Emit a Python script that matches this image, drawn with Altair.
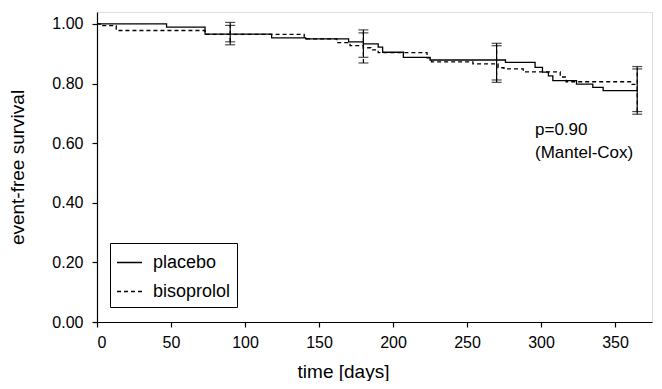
import altair as alt
import pandas as pd

# Kaplan-Meier step data (day where the step starts, survival from then on)
placebo_days = [0, 47, 73, 118, 141, 170, 180, 190, 193, 207, 225, 276, 296, 301, 305, 308, 324, 335, 342, 365]
placebo_surv = [1.000, 0.989, 0.966, 0.953, 0.950, 0.940, 0.933, 0.922, 0.905, 0.888, 0.879, 0.871, 0.854, 0.838, 0.826, 0.810, 0.798, 0.787, 0.776, 0.776]

biso_days = [0, 2, 13, 73, 140, 162, 171, 180, 185, 190, 223, 226, 254, 271, 275, 288, 313, 317, 361, 365]
biso_surv = [1.000, 0.994, 0.978, 0.965, 0.950, 0.937, 0.927, 0.920, 0.913, 0.904, 0.886, 0.873, 0.866, 0.853, 0.849, 0.839, 0.822, 0.806, 0.797, 0.797]

# confidence intervals at the marked time points
ci_days = [90, 180, 270, 365]
placebo_lo = [0.930, 0.888, 0.812, 0.697]
placebo_hi = [1.005, 0.980, 0.935, 0.849]
biso_lo = [0.940, 0.869, 0.804, 0.706]
biso_hi = [0.995, 0.970, 0.927, 0.857]

groups = ["placebo", "bisoprolol"]
x_ticks = list(range(0, 376, 25))
y_ticks = [0, 0.2, 0.4, 0.6, 0.8, 1.0]

curves = pd.concat([
    pd.DataFrame({"day": placebo_days, "surv": placebo_surv, "group": "placebo"}),
    pd.DataFrame({"day": biso_days, "surv": biso_surv, "group": "bisoprolol"}),
])
ci = pd.concat([
    pd.DataFrame({"day": ci_days, "lo": placebo_lo, "hi": placebo_hi, "group": "placebo"}),
    pd.DataFrame({"day": ci_days, "lo": biso_lo, "hi": biso_hi, "group": "bisoprolol"}),
])

FONT = "Liberation Sans"

x_scale = alt.Scale(domain=[0, 375], nice=False, zero=False)
y_scale = alt.Scale(domain=[0, 1.04], nice=False)
dash_scale = alt.Scale(domain=groups, range=[[1, 0], [4, 3]])

common_axis = dict(
    grid=False,
    tickSize=5,
    domainColor="black",
    tickColor="black",
    labelColor="black",
    titleColor="black",
    labelFont=FONT,
    titleFont=FONT,
    labelFontSize=16,
    titleFontSize=19,
    titleFontWeight="normal",
    domainWidth=1.2,
    tickWidth=1.2,
)

x_axis = alt.Axis(
    values=x_ticks,
    labelExpr="(datum.value % 50 == 0 && datum.value <= 350) ? datum.label : ''",
    title="time [days]",
    labelPadding=7,
    titlePadding=12,
    titleX=246,
    **common_axis,
)
y_axis = alt.Axis(
    values=y_ticks,
    format=".2f",
    title="event-free survival",
    labelPadding=9,
    titlePadding=24,
    **common_axis,
)

lines = alt.Chart(curves).mark_line(
    interpolate="step-after", color="black", strokeWidth=1.3
).encode(
    x=alt.X("day:Q", scale=x_scale, axis=x_axis),
    y=alt.Y("surv:Q", scale=y_scale, axis=y_axis),
    strokeDash=alt.StrokeDash(
        "group:N",
        scale=dash_scale,
        legend=alt.Legend(
            title=None,
            orient="none",
            legendX=13,
            legendY=231,
            strokeColor="black",
            padding=6,
            symbolType="stroke",
            symbolSize=625,
            symbolStrokeColor="black",
            symbolStrokeWidth=1.5,
            labelFontSize=18,
            labelFont=FONT,
            labelColor="black",
            rowPadding=6,
            labelOffset=10,
            cornerRadius=0,
        ),
    ),
    detail="group:N",
)

bars = alt.Chart(ci).mark_rule(color="black", strokeWidth=1.2).encode(
    x="day:Q",
    y="lo:Q",
    y2="hi:Q",
    strokeDash=alt.StrokeDash("group:N", scale=dash_scale, legend=None),
)

caps_lo = alt.Chart(ci).mark_tick(
    orient="horizontal", color="black", size=10, thickness=1.2
).encode(
    x="day:Q",
    y="lo:Q",
    strokeDash=alt.StrokeDash("group:N", scale=dash_scale, legend=None),
)
caps_hi = alt.Chart(ci).mark_tick(
    orient="horizontal", color="black", size=10, thickness=1.2
).encode(
    x="day:Q",
    y="hi:Q",
    strokeDash=alt.StrokeDash("group:N", scale=dash_scale, legend=None),
)

note = alt.Chart(pd.DataFrame({"t": ["p=0.90\n(Mantel-Cox)"]})).mark_text(
    align="left", baseline="middle", font=FONT, fontSize=17, color="black",
    lineBreak="\n", lineHeight=23,
).encode(
    x=alt.value(438),
    y=alt.value(118),
    text="t:N",
)

chart = alt.layer(lines, bars, caps_lo, caps_hi, note).properties(
    width=555,
    height=310,
    autosize=alt.AutoSizeParams(type="none"),
    padding={"left": 89, "top": 4, "right": 2, "bottom": 59},
).configure_view(
    stroke="black", strokeWidth=1.2
).configure(background="white")

chart.save("out.html", embed_options={"renderer": "svg", "actions": False})
